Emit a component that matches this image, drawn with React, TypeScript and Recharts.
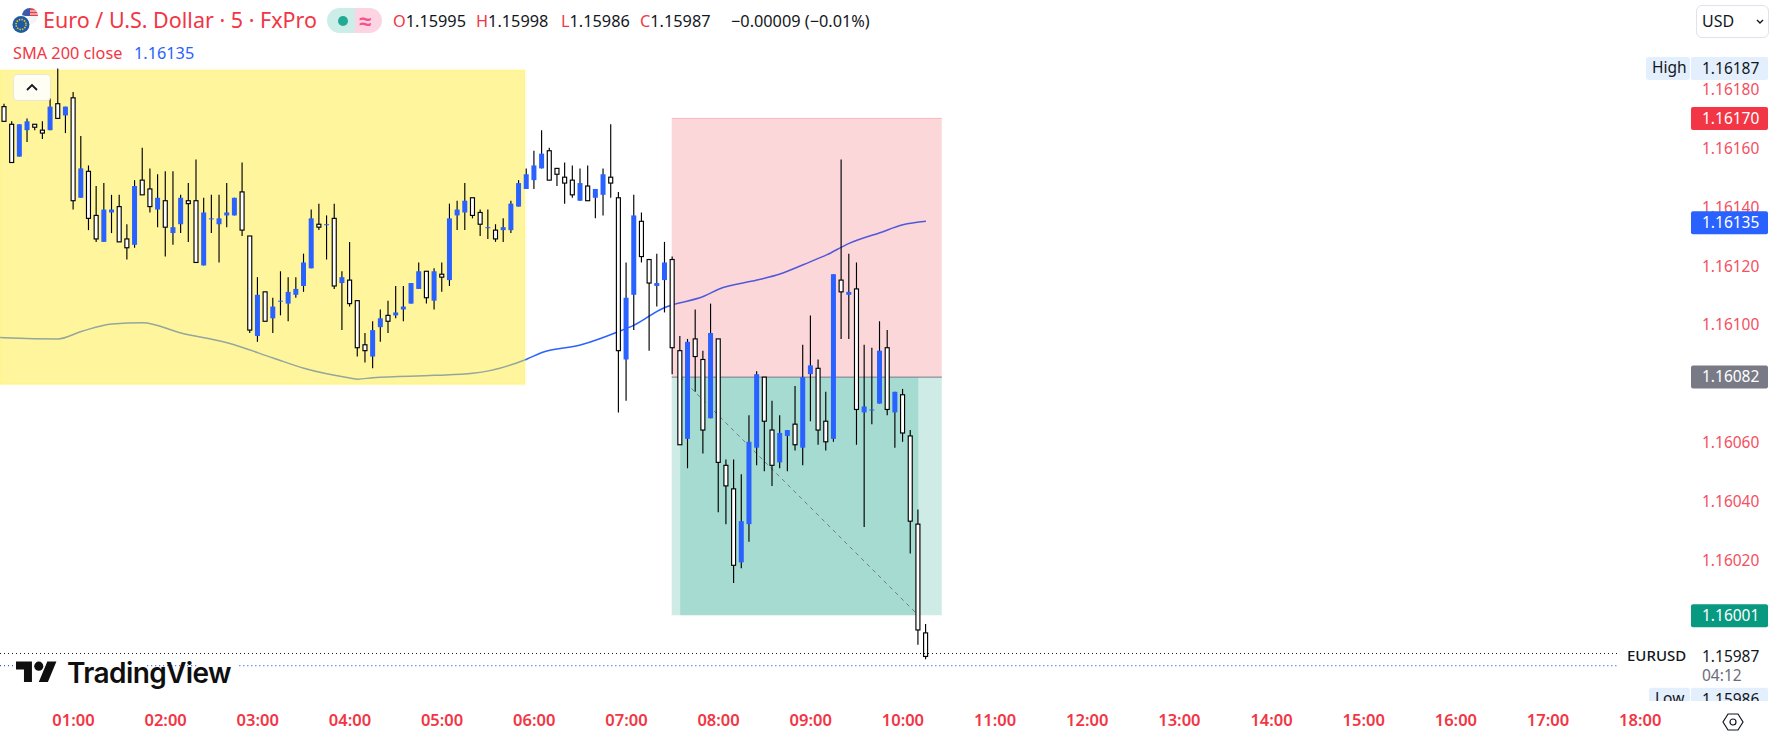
import React from "react";
import { ComposedChart, Bar, Line, XAxis, YAxis, ReferenceArea, ReferenceLine } from "recharts";

const FONT = "'Noto Sans', sans-serif";
const RED = "#f23645";
const BLUE = "#2962ff";

// 5-minute candles, the first one opens at 00:15
const firstCandleMinute = 15;
const highs = [
  1.16175,1.16169,1.16168,1.16170,1.16168,1.16169,1.16177,1.16187,1.16174,1.16179,
  1.16164,1.16154,1.16147,1.16148,1.16144,1.16144,1.16134,1.16149,1.16160,1.16153,
  1.16151,1.16152,1.16152,1.16144,1.16148,1.16156,1.16143,1.16144,1.16144,1.16148,
  1.16143,1.16155,1.16130,1.16116,1.16111,1.16109,1.16118,1.16116,1.16116,1.16124,
  1.16139,1.16141,1.16137,1.16141,1.16118,1.16128,1.16108,1.16097,1.16101,1.16105,
  1.16108,1.16113,1.16113,1.16114,1.16121,1.16118,1.16119,1.16121,1.16141,1.16142,
  1.16148,1.16143,1.16139,1.16139,1.16134,1.16136,1.16142,1.16149,1.16153,1.16159,
  1.16166,1.16160,1.16153,1.16155,1.16154,1.16153,1.16154,1.16146,1.16153,1.16168,
  1.16145,1.16121,1.16144,1.16138,1.16122,1.16124,1.16128,1.16123,1.16096,1.16095,
  1.16105,1.16091,1.16107,1.16095,1.16054,1.16054,1.16049,1.16069,1.16084,1.16082,
  1.16074,1.16069,1.16064,1.16079,1.16093,1.16103,1.16088,1.16077,1.16117,1.16156,
  1.16124,1.16121,1.16093,1.16092,1.16101,1.16098,1.16077,1.16078,1.16064,1.16037,
  1.15998,
];
const lows = [
  1.16169,1.16155,1.16157,1.16162,1.16166,1.16163,1.16166,1.16170,1.16165,1.16139,
  1.16143,1.16132,1.16128,1.16128,1.16131,1.16128,1.16122,1.16126,1.16144,1.16138,
  1.16133,1.16123,1.16127,1.16131,1.16128,1.16121,1.16120,1.16131,1.16121,1.16133,
  1.16137,1.16130,1.16097,1.16094,1.16101,1.16097,1.16103,1.16101,1.16109,1.16111,
  1.16119,1.16132,1.16122,1.16112,1.16098,1.16106,1.16089,1.16087,1.16085,1.16094,
  1.16097,1.16102,1.16101,1.16107,1.16112,1.16107,1.16105,1.16111,1.16113,1.16132,
  1.16132,1.16136,1.16130,1.16129,1.16128,1.16128,1.16131,1.16140,1.16146,1.16146,
  1.16153,1.16149,1.16147,1.16141,1.16143,1.16142,1.16142,1.16136,1.16137,1.16143,
  1.16070,1.16074,1.16098,1.16121,1.16091,1.16106,1.16104,1.16083,1.16059,1.16051,
  1.16077,1.16056,1.16068,1.16036,1.16032,1.16012,1.16017,1.16026,1.16052,1.16050,
  1.16045,1.16051,1.16050,1.16057,1.16052,1.16067,1.16059,1.16057,1.16060,1.16095,
  1.16095,1.16059,1.16031,1.16066,1.16073,1.16069,1.16058,1.16060,1.16022,1.15991,
  1.15986,
];
const opens = [
  1.16174,1.16168,1.16157,1.16166,1.16168,1.16166,1.16166,1.16175,1.16171,1.16177,
  1.16143,1.16152,1.16137,1.16128,1.16138,1.16140,1.16129,1.16127,1.16149,1.16146,
  1.16139,1.16142,1.16131,1.16134,1.16142,1.16142,1.16120,1.16136,1.16134,1.16137,
  1.16137,1.16145,1.16130,1.16096,1.16111,1.16102,1.16108,1.16107,1.16110,1.16113,
  1.16119,1.16134,1.16134,1.16136,1.16114,1.16115,1.16108,1.16093,1.16089,1.16099,
  1.16103,1.16103,1.16105,1.16107,1.16112,1.16118,1.16108,1.16117,1.16115,1.16137,
  1.16138,1.16143,1.16138,1.16133,1.16132,1.16132,1.16132,1.16140,1.16146,1.16149,
  1.16153,1.16159,1.16153,1.16150,1.16149,1.16142,1.16147,1.16143,1.16144,1.16150,
  1.16143,1.16088,1.16110,1.16135,1.16122,1.16113,1.16115,1.16122,1.16091,1.16061,
  1.16095,1.16088,1.16068,1.16095,1.16052,1.16044,1.16019,1.16032,1.16058,1.16082,
  1.16064,1.16053,1.16062,1.16066,1.16058,1.16083,1.16085,1.16067,1.16061,1.16115,
  1.16110,1.16112,1.16070,1.16071,1.16073,1.16092,1.16070,1.16076,1.16062,1.16032,
  1.15995,
];
const closes = [
  1.16169,1.16155,1.16168,1.16169,1.16167,1.16165,1.16174,1.16170,1.16174,1.16142,
  1.16153,1.16136,1.16129,1.16139,1.16139,1.16128,1.16126,1.16147,1.16144,1.16140,
  1.16143,1.16133,1.16133,1.16143,1.16141,1.16121,1.16138,1.16136,1.16136,1.16138,
  1.16143,1.16132,1.16098,1.16110,1.16101,1.16106,1.16108,1.16111,1.16112,1.16121,
  1.16136,1.16133,1.16134,1.16113,1.16116,1.16107,1.16092,1.16091,1.16098,1.16102,
  1.16101,1.16104,1.16106,1.16114,1.16118,1.16109,1.16118,1.16116,1.16136,1.16139,
  1.16142,1.16137,1.16134,1.16133,1.16129,1.16133,1.16141,1.16148,1.16151,1.16154,
  1.16158,1.16149,1.16151,1.16148,1.16144,1.16148,1.16142,1.16146,1.16151,1.16148,
  1.16091,1.16109,1.16137,1.16123,1.16114,1.16114,1.16121,1.16092,1.16059,1.16094,
  1.16089,1.16064,1.16097,1.16053,1.16045,1.16018,1.16033,1.16060,1.16083,1.16067,
  1.16052,1.16063,1.16064,1.16059,1.16082,1.16086,1.16064,1.16060,1.16117,1.16111,
  1.16111,1.16071,1.16072,1.16071,1.16091,1.16071,1.16077,1.16063,1.16033,1.15996,
  1.15987,
];

// SMA 200 at these candle numbers (-1 is the bar before the first drawn candle)
const smaCandles = [-1,0,7,10,14,18,23,29,35,39,45,46,48,56,61,68,70,75,80,82,86,87,91,93,98,101,105,107,110,114,117,120];
const smaValues = [
  1.160955,1.160954,1.16095,1.160975,1.161001,1.161005,1.16097,1.160937,1.160885,1.16085,1.160817,1.160813,
  1.160818,1.160826,1.160833,1.160881,1.160904,1.160929,1.160975,1.160997,1.161057,1.161066,
  1.161094,1.161119,1.16115,1.161171,1.161213,1.161235,1.161275,1.161311,1.161338,1.16135,
];

const hourTicks = [60,120,180,240,300,360,420,480,540,600,660,720,780,840,900,960,1020,1080];
const priceTicks = [1.1618,1.1616,1.1614,1.1612,1.161,1.1606,1.1604,1.1602];
const priceTags = [
  { value: 1.16187, bg: "#e3effd", fg: "#131722", side: "High" },
  { value: 1.1617, bg: "#f23645", fg: "#ffffff" },
  { value: 1.16135, bg: "#2962ff", fg: "#ffffff", shiftDown: 1.5 },
  { value: 1.16082, bg: "#787b86", fg: "#ffffff" },
  { value: 1.16001, bg: "#089981", fg: "#ffffff", shiftDown: 0.5 },
  { value: 1.15986, bg: "#e3effd", fg: "#131722", side: "Low", shiftDown: 40 },
];
const lastPrice = 1.15987;
const countdown = "04:12";
const symbol = "EURUSD";

const ENTRY = 1.16082, STOP = 1.1617, TARGET = 1.16001;

const rows = highs.map((h, i) => ({
  t: firstCandleMinute + i * 5, high: h, low: lows[i], open: opens[i], close: closes[i],
}));
const smaRows = smaCandles.map((c, i) => ({ t: firstCandleMinute + c * 5, sma: smaValues[i] }));

const Candle = (props: any) => {
  const { x, y, width, height, payload } = props;
  const h = Math.abs(height);
  const range = payload.high - payload.low;
  const k = range > 0 ? h / range : 0;
  const cx = x + width / 2;
  const top = y + (payload.high - Math.max(payload.open, payload.close)) * k;
  const bottom = y + (payload.high - Math.min(payload.open, payload.close)) * k;
  const up = payload.close >= payload.open;
  return (
    <g>
      <line x1={cx} x2={cx} y1={y} y2={y + h} stroke="#000" strokeWidth={1.15} />
      {up ? (
        <rect x={cx - 2.5} y={top} width={5} height={Math.max(bottom - top, 1)} fill={BLUE} />
      ) : (
        <rect x={cx - 2} y={top} width={4} height={Math.max(bottom - top, 1)} fill="#fff" stroke="#000" strokeWidth={1.15} />
      )}
    </g>
  );
};

const fmt = (v: number) => v.toFixed(5);
const AX = 1691, AW = 77, TX = 1702;

const PriceTick = (props: any) => {
  const { y, payload } = props;
  const v = payload.value;
  const tag = priceTags.find((p) => Math.abs(p.value - v) < 1e-7);
  if (Math.abs(v - lastPrice) < 1e-7) {
    return (
      <g fontFamily={FONT} fontSize={15.5}>
        <text x={1627} y={y + 1} dominantBaseline="middle" fill="#131722" fontWeight={500} fontSize={15}>{symbol}</text>
        <text x={TX} y={y + 1} dominantBaseline="middle" fill="#131722">{fmt(v)}</text>
        <text x={TX} y={y + 20} dominantBaseline="middle" fill="#6a6d78">{countdown}</text>
      </g>
    );
  }
  if (tag) {
    const cy = y + (tag.shiftDown || 0);
    const clip = tag.side === "Low" ? "url(#paneClip)" : undefined;
    return (
      <g fontFamily={FONT} fontSize={15.5} clipPath={clip}>
        {tag.side && <rect x={tag.side === "Low" ? 1649 : 1646} y={cy - 11.5} width={tag.side === "Low" ? 41 : 44} height={23} rx={3} fill={tag.bg} />}
        {tag.side && <text x={tag.side === "Low" ? 1655 : 1652} y={cy} dominantBaseline="middle" fill={tag.fg} fontSize={15.5}>{tag.side}</text>}
        <rect x={AX} y={cy - 11.5} width={AW} height={23} rx={2} fill={tag.bg} />
        <text x={TX} y={cy + 1} dominantBaseline="middle" fill={tag.fg}>{fmt(v)}</text>
      </g>
    );
  }
  return <text x={TX} y={y + 2} dominantBaseline="middle" fill="#f4505f" fontFamily={FONT} fontSize={15.5}>{fmt(v)}</text>;
};

const abs = (left: number, top: number, extra: any = {}) => ({ position: "absolute", left, top, whiteSpace: "nowrap", fontFamily: FONT, ...extra });

const Ohlc = ({ k, v, left }: any) => (
  <span style={abs(left, 10, { fontSize: 16.3, lineHeight: "22px" })}>
    <span style={{ color: RED }}>{k}</span><span style={{ color: "#131722" }}>{v}</span>
  </span>
);

export default function App() {
  return (
    <div style={{ position: "absolute", left: 0, top: 0, width: 1771, height: 737, background: "#fff", overflow: "hidden" }}>
      <svg width={0} height={0} style={{ position: "absolute" }}>
        <defs><clipPath id="paneClip"><rect x={0} y={0} width={1771} height={701} /></clipPath></defs>
      </svg>
      <ComposedChart width={1771} height={737} data={rows} margin={{ top: 0, right: 0, bottom: 0, left: 0 }} barSize={5}>
        <XAxis
          dataKey="t" type="number" domain={[12.18, 1112.43]} allowDataOverflow ticks={hourTicks} interval={0}
          axisLine={false} tickLine={false} height={36}
          tick={(p: any) => (
            <text x={p.x} y={722} textAnchor="middle" dominantBaseline="middle" fill={RED} fontFamily={FONT} fontWeight={600} fontSize={16.5}>
              {String(p.payload.value / 60).padStart(2, "0")}:00
            </text>
          )}
        />
        <YAxis
          orientation="right" width={81} domain={[1.1597184, 1.1621027]} allowDataOverflow interval={0}
          ticks={[...priceTicks, lastPrice, ...priceTags.map((p) => p.value)]}
          axisLine={false} tickLine={false} tick={<PriceTick />}
        />
        <ReferenceLine segment={[{ x: 12.18, y: 1.15988 }, { x: 1065.6, y: 1.15988 }]} stroke="#131722" strokeDasharray="1 3" ifOverflow="visible" />
        <ReferenceLine segment={[{ x: 12.18, y: 1.159839 }, { x: 23, y: 1.159839 }]} stroke={BLUE} strokeWidth={1.3} strokeDasharray="1 3" ifOverflow="visible" />
        <ReferenceLine segment={[{ x: 108, y: 1.159839 }, { x: 140, y: 1.159839 }]} stroke={BLUE} strokeWidth={1.3} strokeDasharray="1 3" ifOverflow="visible" />
        <ReferenceLine segment={[{ x: 168, y: 1.159839 }, { x: 1065.6, y: 1.159839 }]} stroke={BLUE} strokeWidth={1.3} strokeDasharray="1 3" ifOverflow="visible" />
        <Line data={smaRows} dataKey="sma" type="monotone" stroke={BLUE} strokeWidth={1.5} dot={false} activeDot={false} isAnimationActive={false} zIndex={10} />
        <ReferenceArea x1={12.18} x2={354} y1={1.160795} y2={1.161865} fill="#ffeb3b" fillOpacity={0.5} stroke="#ffeb3b" strokeOpacity={0.12} strokeWidth={3} ifOverflow="visible" zIndex={20} />
        <ReferenceArea x1={449.5} x2={625.3} y1={ENTRY} y2={STOP} fill={RED} fillOpacity={0.2} stroke="none" zIndex={20} />
        <ReferenceArea x1={449.5} x2={625.3} y1={TARGET} y2={ENTRY} fill="#089981" fillOpacity={0.2} stroke="none" zIndex={20} />
        <ReferenceArea x1={455} x2={610} y1={TARGET} y2={ENTRY} fill="#089981" fillOpacity={0.2} stroke="none" zIndex={20} />
        <ReferenceLine segment={[{ x: 449.5, y: STOP }, { x: 625.3, y: STOP }]} stroke={RED} strokeOpacity={0.3} zIndex={21} />
        <ReferenceLine segment={[{ x: 449.5, y: ENTRY }, { x: 625.3, y: ENTRY }]} stroke="#787b86" zIndex={21} />
        <ReferenceLine segment={[{ x: 455, y: ENTRY }, { x: 610, y: TARGET }]} stroke="#787b86" strokeDasharray="4 4" zIndex={21} />
        <Bar dataKey={(d: any) => [d.low, d.high]} shape={<Candle />} isAnimationActive={false} zIndex={30} />
      </ComposedChart>

      {/* header */}
      <svg style={{ position: "absolute", left: 11, top: 7 }} width={28} height={28} viewBox="0 0 28 28">
        <circle cx={19} cy={9} r={8} fill="#f4f4f4" />
        <path d="M19 1a8 8 0 0 1 8 8h-8z" fill="#e0404a" />
        <path d="M11 9a8 8 0 0 1 8-8v8z" fill="#3c5aa8" />
        <path d="M19 4h7M19 7h8" stroke="#fff" strokeWidth={1.2} />
        <circle cx={10} cy={17.5} r={9.5} fill="#fff" />
        <circle cx={10} cy={17.5} r={8.5} fill="#1f5aa8" />
        <circle cx={10} cy={17.5} r={5} fill="none" stroke="#f5d000" strokeWidth={1.5} strokeDasharray="1.4 1.2" />
      </svg>
      <span style={abs(43, 6, { fontSize: 21.5, lineHeight: "28px", color: RED })}>Euro / U.S. Dollar · 5 · FxPro</span>
      <div style={{ position: "absolute", left: 327, top: 8, width: 28, height: 25, background: "#cdeee8", borderRadius: "12.5px 0 0 12.5px" }} />
      <div style={{ position: "absolute", left: 355, top: 8, width: 27, height: 25, background: "#fdd5e2", borderRadius: "0 12.5px 12.5px 0" }} />
      <div style={{ position: "absolute", left: 338, top: 15.5, width: 10, height: 10, background: "#22ab94", borderRadius: 5 }} />
      <span style={abs(359, 6, { fontSize: 22, fontWeight: 700, lineHeight: "28px", color: "#f7528f" })}>≈</span>
      <Ohlc k="O" v="1.15995" left={393} />
      <Ohlc k="H" v="1.15998" left={476} />
      <Ohlc k="L" v="1.15986" left={561} />
      <Ohlc k="C" v="1.15987" left={640} />
      <span style={abs(731, 10, { fontSize: 16.3, lineHeight: "22px", color: "#131722" })}>−0.00009 (−0.01%)</span>
      <span style={abs(13, 42, { fontSize: 16.3, lineHeight: "22px", color: RED })}>SMA 200 close</span>
      <span style={abs(134, 42, { fontSize: 16.3, lineHeight: "22px", color: BLUE })}>1.16135</span>

      {/* collapse button */}
      <div style={{ position: "absolute", left: 13, top: 74, width: 38, height: 27, boxSizing: "border-box", border: "1px solid #ece8cf", borderRadius: 4, background: "rgba(255,255,255,0.9)" }}>
        <svg width={36} height={25} viewBox="0 0 36 25"><path d="M13 15l5-5 5 5" fill="none" stroke="#131722" strokeWidth={1.8} /></svg>
      </div>

      {/* currency */}
      <div style={{ position: "absolute", left: 1696, top: 5, width: 73, height: 33, boxSizing: "border-box", border: "1px solid #e0e3eb", borderRadius: 6 }}>
        <span style={abs(5, 4, { fontSize: 16, lineHeight: "22px", color: "#131722" })}>USD</span>
        <svg style={{ position: "absolute", left: 58, top: 12 }} width={10} height={8} viewBox="0 0 10 8"><path d="M2 2l3 3 3-3" fill="none" stroke="#131722" strokeWidth={1.4} /></svg>
      </div>

      {/* logo */}
      <svg style={{ position: "absolute", left: 16, top: 657 }} width={41} height={32} viewBox="0 0 36 28">
        <path d="M14 22H7V11H0V4h14v18zM28 22h-8l7.5-18h8L28 22z" fill="#0f0f0f" />
        <circle cx={20} cy={8} r={4} fill="#0f0f0f" />
      </svg>
      <span style={abs(67, 655, { fontFamily: "Inter, sans-serif", fontWeight: 600, fontSize: 28, lineHeight: "36px", color: "#0f0f0f", letterSpacing: -0.6 })}>TradingView</span>

      {/* settings */}
      <svg style={{ position: "absolute", left: 1722, top: 711 }} width={22} height={22} viewBox="0 0 22 22">
        <path d="M6 3h10l5 8-5 8H6l-5-8z" fill="none" stroke="#131722" strokeWidth={1.2} />
        <circle cx={11} cy={11} r={3} fill="none" stroke="#131722" strokeWidth={1.2} />
      </svg>
    </div>
  );
}
